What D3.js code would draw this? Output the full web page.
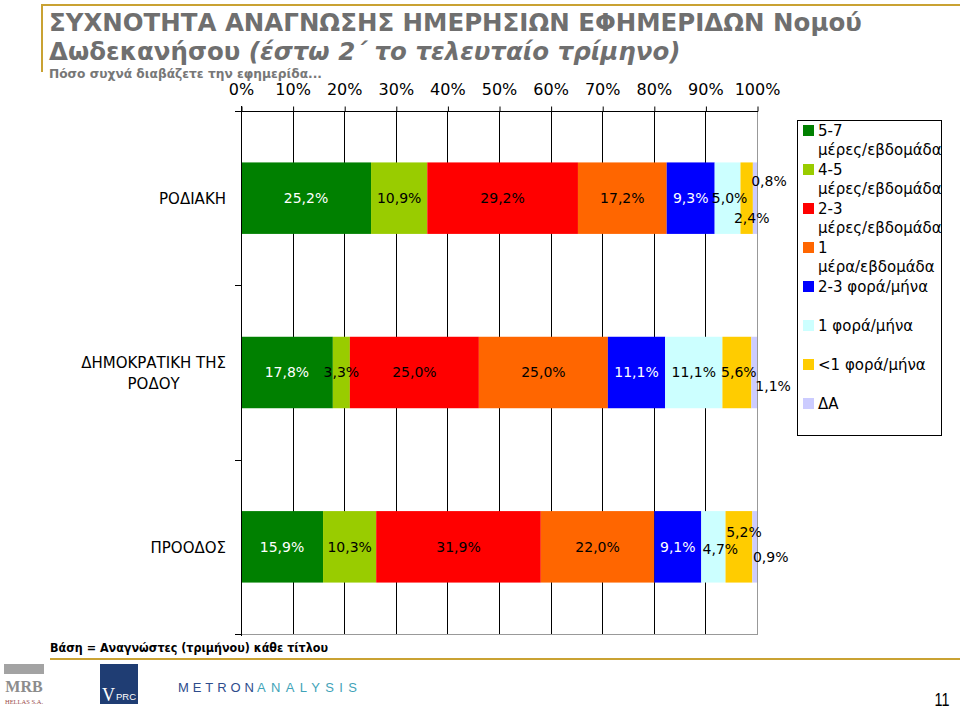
<!DOCTYPE html>
<html><head><meta charset="utf-8">
<script src="https://cdn.jsdelivr.net/npm/d3@7"></script>
<style>body{margin:0;background:#fff} svg{display:block}</style>
</head><body>
<svg id="c" width="960" height="708"></svg>
<script>
// ---------- DATA ----------
const categories = ["ΡΟΔΙΑΚΗ", "ΔΗΜΟΚΡΑΤΙΚΗ ΤΗΣ ΡΟΔΟΥ", "ΠΡΟΟΔΟΣ"];
const seriesNames = ["5-7 μέρες/εβδομάδα", "4-5 μέρες/εβδομάδα", "2-3 μέρες/εβδομάδα",
  "1 μέρα/εβδομάδα", "2-3 φορά/μήνα", "1 φορά/μήνα", "<1 φορά/μήνα", "ΔΑ"];
const days57   = [25.2, 17.8, 15.9];
const days45   = [10.9, 3.3, 10.3];
const days23   = [29.2, 25.0, 31.9];
const day1     = [17.2, 25.0, 22.0];
const month23  = [9.3, 11.1, 9.1];
const month1   = [5.0, 11.1, 4.7];
const monthLt1 = [2.4, 5.6, 5.2];
const noAnswer = [0.8, 1.1, 0.9];
const seriesValues = [days57, days45, days23, day1, month23, month1, monthLt1, noAnswer];
const tickValues = [0, 10, 20, 30, 40, 50, 60, 70, 80, 90, 100];
const tickLabels = ["0%", "10%", "20%", "30%", "40%", "50%", "60%", "70%", "80%", "90%", "100%"];

// ---------- STYLE ----------
const colors = ["#008000", "#99CC00", "#FF0000", "#FF6600", "#0000FF", "#CCFFFF", "#FFCC00", "#CCCCFF"];
const labelColors = ["#fff", "#000", "#000", "#000", "#fff", "#000", "#000", "#000"];
// label nudges [dx, dy] keyed by categoryIndex|seriesIndex
const labelNudge = {
  "0|5": [2, 0], "0|6": [5, 20], "0|7": [14, -17],
  "1|6": [2, 0], "1|7": [19, 14],
  "2|5": [7, 2], "2|6": [5, -15], "2|7": [16, 10]
};
const F = "'DejaVu Sans', Verdana, sans-serif";
const gold = "#C9A233";

const svg = d3.select("#c");
const M = {left: 241, right: 757, top: 111, bottom: 634};

const x = d3.scaleLinear().domain([0, 100]).range([M.left, M.right]);
const y = d3.scaleBand().domain(categories).range([M.top, M.bottom]);
const bw = y.bandwidth();
const barH = bw * 0.41;

const rows = categories.map((c, i) => {
  const r = {cat: c, ci: i};
  seriesNames.forEach((s, j) => r[s] = seriesValues[j][i]);
  return r;
});
const stacked = d3.stack().keys(seriesNames)(rows);
const loc = d3.formatLocale({decimal: ",", thousands: ".", grouping: [3], currency: ["", "€"]});
const fmt = v => loc.format(".1f")(v) + "%";

// ---------- HEADER ----------
svg.append("line").attr("x1", 42).attr("x2", 960).attr("y1", 5).attr("y2", 5)
  .attr("stroke", gold).attr("stroke-width", 2);
svg.append("line").attr("x1", 42).attr("x2", 42).attr("y1", 4).attr("y2", 72)
  .attr("stroke", gold).attr("stroke-width", 2);

const tg = svg.append("g");
const t1 = tg.append("text").attr("x", 0).attr("y", 31)
  .attr("font-family", F).attr("font-weight", "bold").attr("font-size", 25).attr("fill", "#6f6f6f")
  .text("ΣΥΧΝΟΤΗΤΑ ΑΝΑΓΝΩΣΗΣ ΗΜΕΡΗΣΙΩΝ ΕΦΗΜΕΡΙΔΩΝ Νομού");
const t2 = tg.append("text").attr("x", 0).attr("y", 60)
  .attr("font-family", F).attr("font-weight", "bold").attr("font-size", 25).attr("fill", "#6f6f6f");
t2.append("tspan").text("Δωδεκανήσου ");
t2.append("tspan").attr("font-style", "italic").text("(έστω 2΄ το τελευταίο τρίμηνο)");
const sx = 813 / t1.node().getComputedTextLength();
tg.attr("transform", `translate(49,0) scale(${sx},1)`);

function fitText(sel, w) {
  sel.attr("textLength", w).attr("lengthAdjust", "spacingAndGlyphs");
}
const sub = svg.append("text").attr("x", 49).attr("y", 78)
  .attr("font-family", F).attr("font-weight", "bold").attr("font-size", 13).attr("fill", "#777")
  .text("Πόσο συχνά διαβάζετε την εφημερίδα...");
fitText(sub, 273);

// ---------- GRID & AXES ----------
const gridG = svg.append("g");
gridG.selectAll("line").data(tickValues.slice(1, -1)).join("line")
  .attr("x1", d => Math.round(x(d)) + 0.5).attr("x2", d => Math.round(x(d)) + 0.5)
  .attr("y1", M.top).attr("y2", M.bottom).attr("stroke", "#000");
// right & bottom border (gray)
gridG.append("line").attr("x1", M.right + 0.5).attr("x2", M.right + 0.5)
  .attr("y1", M.top).attr("y2", M.bottom).attr("stroke", "#999");
gridG.append("line").attr("x1", M.left).attr("x2", M.right + 1)
  .attr("y1", M.bottom + 0.5).attr("y2", M.bottom + 0.5).attr("stroke", "#999");

// bars
const layers = svg.append("g").selectAll("g").data(stacked).join("g")
  .attr("fill", (d, i) => colors[i]);
layers.selectAll("rect").data(d => d).join("rect")
  .attr("x", d => x(d[0]))
  .attr("width", d => x(d[1]) - x(d[0]))
  .attr("y", d => y(d.data.cat) + (bw - barH) / 2)
  .attr("height", barH);

// top axis
const axT = svg.append("g").attr("transform", `translate(0,${M.top + 0.5})`)
  .call(d3.axisTop(x).tickValues(tickValues).tickFormat((d, i) => tickLabels[i])
    .tickSizeInner(5).tickSizeOuter(0).tickPadding(12));
axT.select(".domain").remove();
axT.selectAll(".tick line").attr("stroke", "#000").attr("transform", "translate(0.5,0)");
axT.selectAll("text").attr("font-family", F).attr("font-size", 16).attr("fill", "#000");
svg.append("line").attr("x1", 235).attr("x2", M.right + 1)
  .attr("y1", M.top + 0.5).attr("y2", M.top + 0.5).attr("stroke", "#000");

// left axis
svg.append("line").attr("x1", M.left + 0.5).attr("x2", M.left + 0.5)
  .attr("y1", M.top - 5).attr("y2", M.bottom + 2).attr("stroke", "#000");
const bounds = [M.top].concat(categories.map(c => y(c) + bw));
svg.append("g").selectAll("line").data(bounds).join("line")
  .attr("x1", 235).attr("x2", M.left)
  .attr("y1", d => Math.round(d) + 0.5).attr("y2", d => Math.round(d) + 0.5)
  .attr("stroke", "#000");

// category labels
categories.forEach((c, i) => {
  const words = c.split(" ");
  const lines = c.length > 12 ? [words.slice(0, -1).join(" "), words[words.length - 1]] : [c];
  const cy = y(c) + bw / 2 + 1;
  const g = svg.append("g");
  const texts = lines.map((ln, k) => g.append("text")
    .attr("y", cy + (k - (lines.length - 1) / 2) * 21)
    .attr("dy", "0.35em")
    .attr("font-family", F).attr("font-size", 15).attr("fill", "#000")
    .attr("text-anchor", "middle").text(ln));
  const maxW = d3.max(texts, t => t.node().getComputedTextLength());
  texts.forEach(t => t.attr("x", 226 - maxW / 2));
});

// data labels
stacked.forEach((layer, si) => {
  layer.forEach((d, ci) => {
    const n = labelNudge[ci + "|" + si] || [0, 0];
    svg.append("text")
      .attr("x", x((d[0] + d[1]) / 2) + n[0])
      .attr("y", y(d.data.cat) + bw / 2 + n[1])
      .attr("dy", "0.35em").attr("text-anchor", "middle")
      .attr("font-family", F).attr("font-size", 14)
      .attr("fill", labelColors[si])
      .text(fmt(d[1] - d[0]));
  });
});

// ---------- LEGEND ----------
svg.append("rect").attr("x", 797.5).attr("y", 120.5).attr("width", 144).attr("height", 315)
  .attr("fill", "#fff").attr("stroke", "#000");
const measure = svg.append("text").attr("font-family", F).attr("font-size", 15).attr("visibility", "hidden");
function wrap(s, maxW) {
  const words = s.split(" ");
  const out = [];
  let cur = "";
  words.forEach(w => {
    const test = cur ? cur + " " + w : w;
    measure.text(test);
    if (cur && measure.node().getComputedTextLength() > maxW) { out.push(cur); cur = w; }
    else cur = test;
  });
  out.push(cur);
  return out;
}
seriesNames.forEach((s, i) => {
  const cy = 131 + i * 39;
  svg.append("rect").attr("x", 803).attr("y", cy - 6).attr("width", 11).attr("height", 11)
    .attr("fill", colors[i]);
  wrap(s, 124).forEach((ln, k) => {
    svg.append("text").attr("x", 818).attr("y", cy + k * 19).attr("dy", "0.35em")
      .attr("font-family", F).attr("font-size", 15).attr("fill", "#000").text(ln);
  });
});
measure.remove();

// ---------- FOOTER ----------
const base = svg.append("text").attr("x", 50).attr("y", 652)
  .attr("font-family", F).attr("font-weight", "bold").attr("font-size", 13).attr("fill", "#000")
  .text("Βάση = Αναγνώστες (τριμήνου) κάθε τίτλου");
fitText(base, 278);
svg.append("line").attr("x1", 50).attr("x2", 960).attr("y1", 659).attr("y2", 659)
  .attr("stroke", gold).attr("stroke-width", 2);

// MRB logo
svg.append("rect").attr("x", 4).attr("y", 664).attr("width", 40).attr("height", 10).attr("fill", "#a3a3a3");
svg.append("text").attr("x", 24).attr("y", 692).attr("text-anchor", "middle")
  .attr("font-family", "'Liberation Serif', serif").attr("font-weight", "bold").attr("font-size", 16)
  .attr("fill", "#8c8c8c").text("MRB");
svg.append("text").attr("x", 24).attr("y", 704).attr("text-anchor", "middle")
  .attr("font-family", "'Liberation Serif', serif").attr("font-size", 6.5)
  .attr("fill", "#9a4b4b").text("HELLAS S.A.");
// VPRC logo
svg.append("rect").attr("x", 100).attr("y", 664).attr("width", 38).attr("height", 40).attr("fill", "#1f3d73");
svg.append("text").attr("x", 102).attr("y", 701)
  .attr("font-family", "'Liberation Serif', serif").attr("font-size", 18).attr("fill", "#fff").text("V");
svg.append("text").attr("x", 116).attr("y", 700)
  .attr("font-family", "'Liberation Sans', sans-serif").attr("font-size", 9.5).attr("fill", "#fff").text("PRC");
// METRONANALYSIS
const m1 = svg.append("text").attr("x", 178).attr("y", 692)
  .attr("font-family", "'Liberation Sans', sans-serif").attr("font-size", 13).attr("fill", "#2e4c8c")
  .text("METRON");
m1.attr("textLength", 76).attr("lengthAdjust", "spacing");
const m2 = svg.append("text").attr("x", 257).attr("y", 692)
  .attr("font-family", "'Liberation Sans', sans-serif").attr("font-size", 13).attr("fill", "#3fa3b8")
  .text("ANALYSIS");
m2.attr("textLength", 100).attr("lengthAdjust", "spacing");
// page number
svg.append("text").attr("x", 942).attr("y", 706).attr("text-anchor", "middle")
  .attr("font-family", "'Liberation Sans', sans-serif").attr("font-size", 18).attr("fill", "#000")
  .attr("transform", "translate(942,0) scale(0.8,1) translate(-942,0)")
  .text("11");
</script>
</body></html>
